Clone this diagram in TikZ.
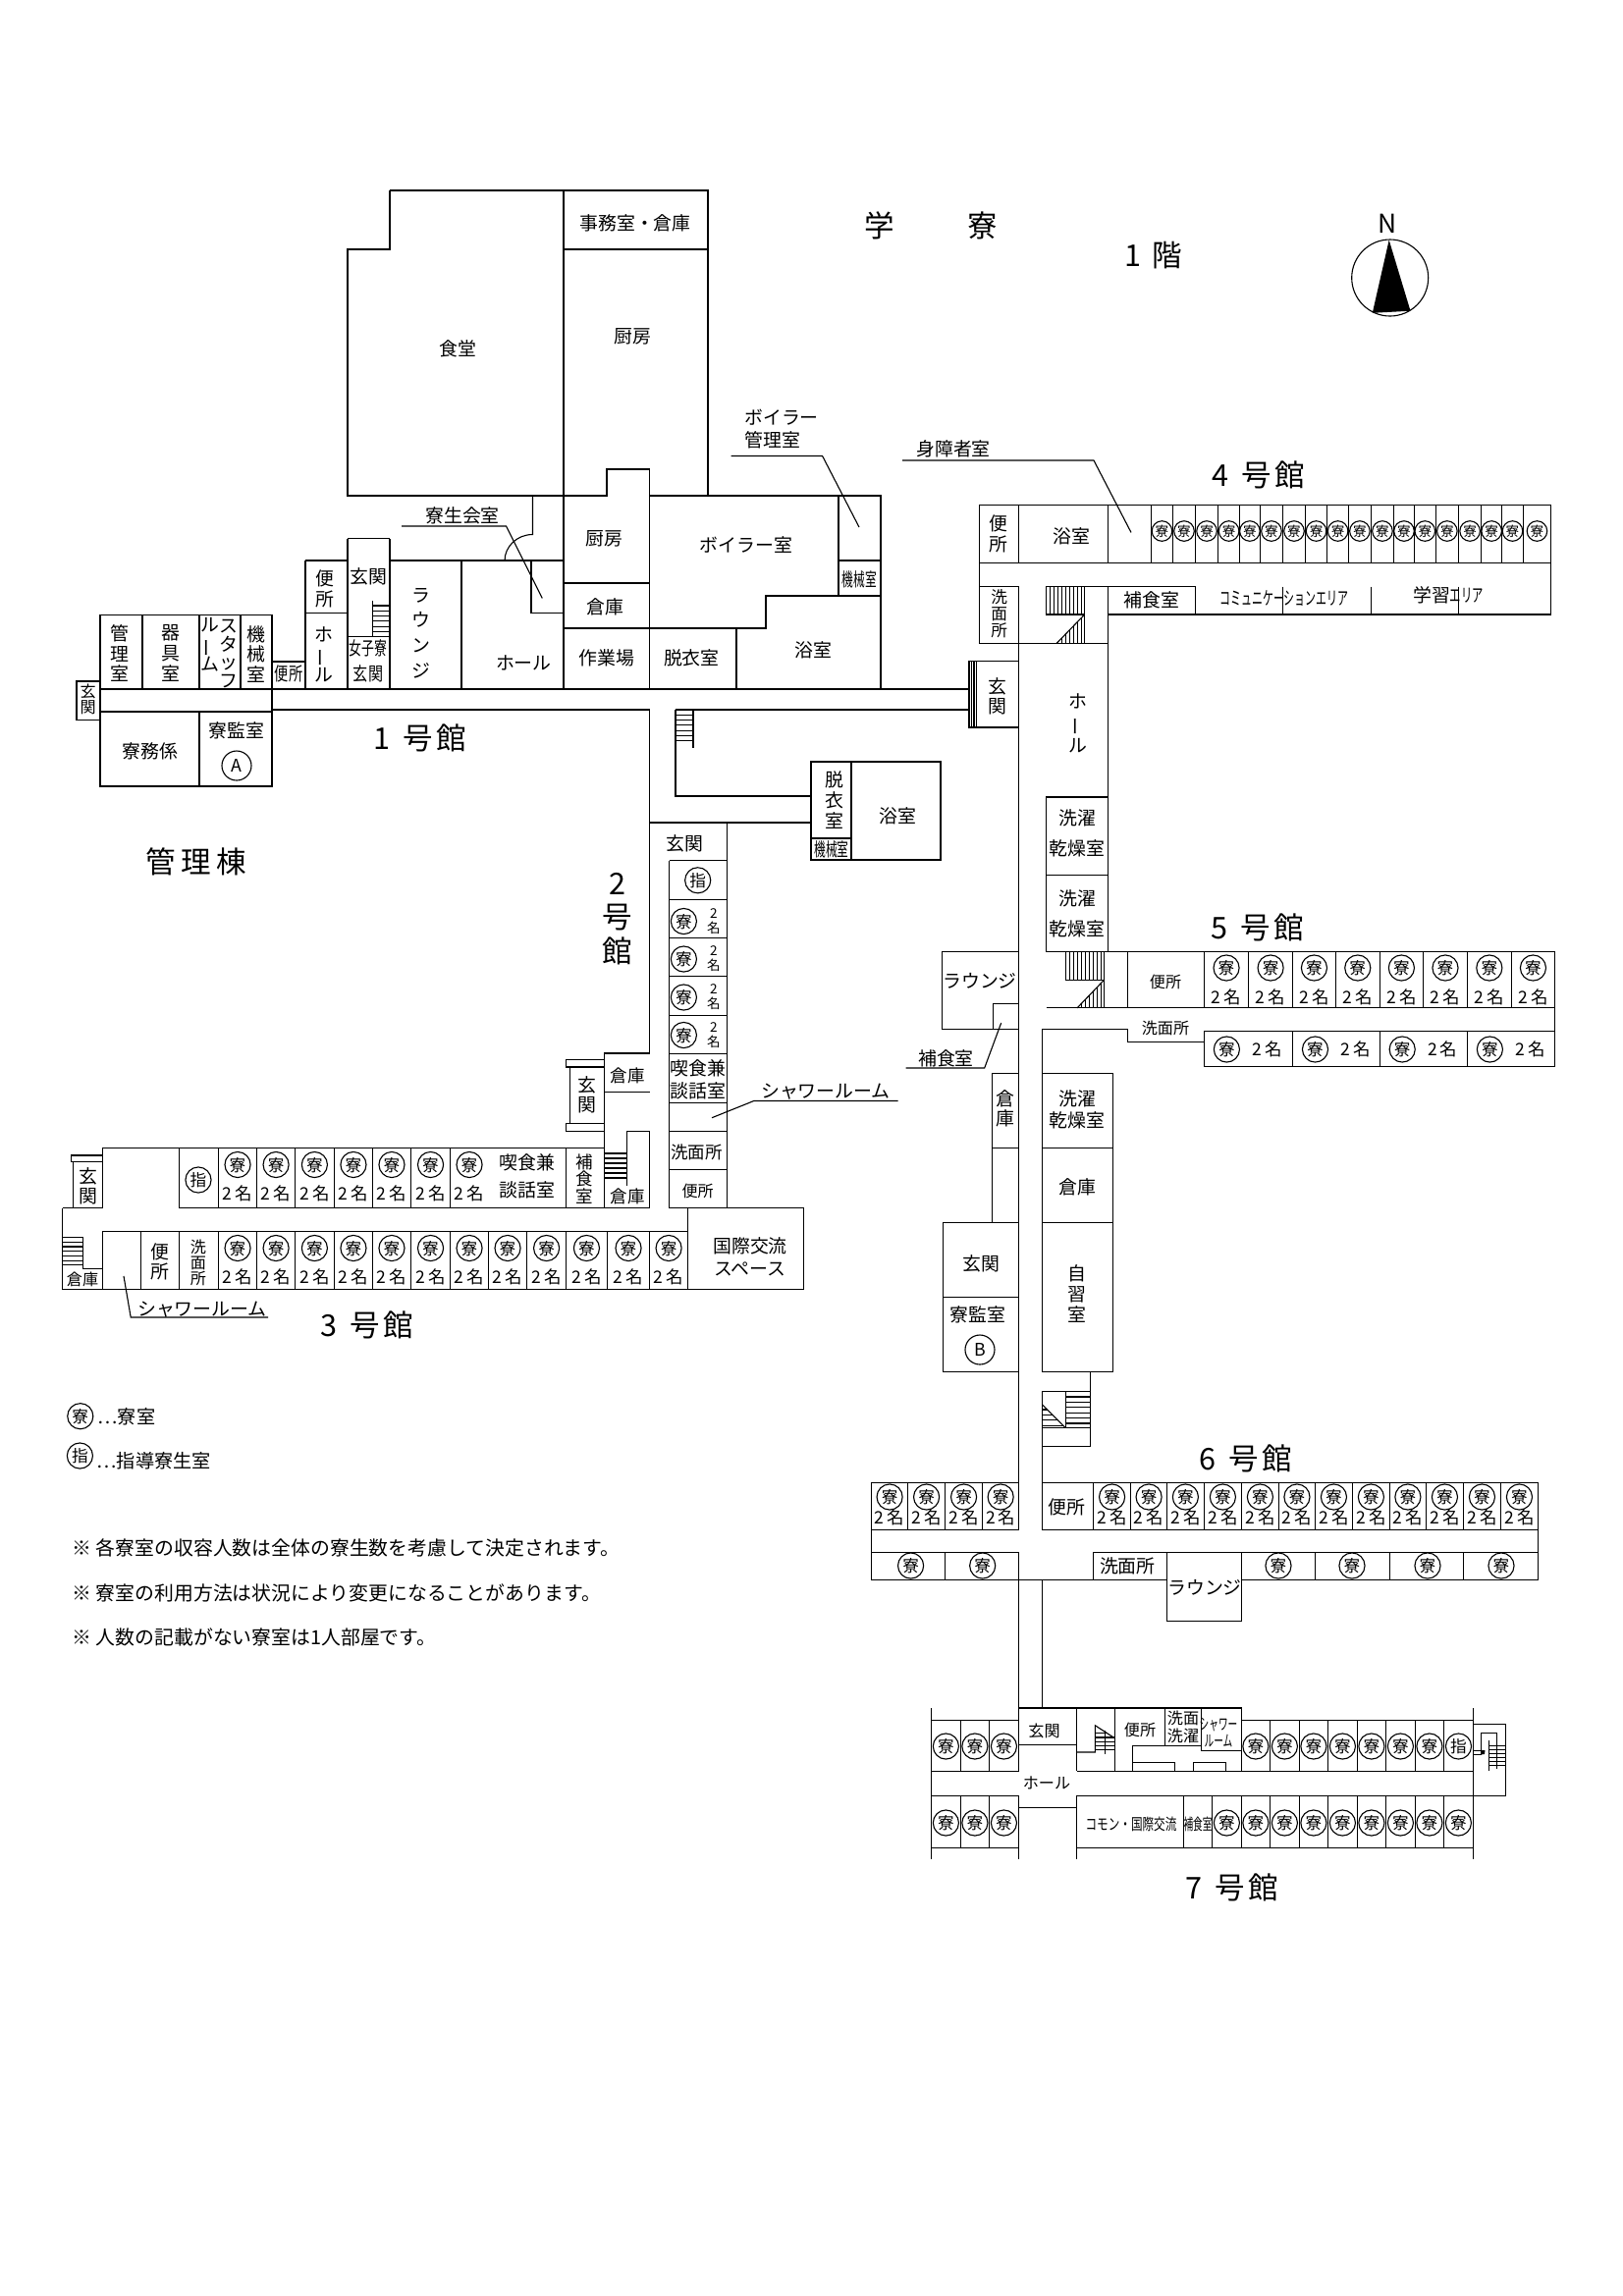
\documentclass[tikz,border=0pt]{standalone}
\usepackage{fontspec}
\setmainfont{Noto Sans CJK JP}
\normallineskiplimit=-20pt
\lineskiplimit=-20pt
\newcommand{\vchoon}{\rotatebox[origin=c]{90}{ー}}
\newcommand{\twomei}{2\hspace{1.1pt}名}
\newcommand{\gokan}[1]{#1\hspace{4.5pt}号\hspace{1.5pt}館}
\tikzset{
	lbl/.style={inner sep=0pt,align=center,font=\fontsize{6.8}{7.4}\selectfont},
	lbls/.style={inner sep=0pt,align=center,font=\fontsize{5.8}{6}\selectfont},
	title/.style={inner sep=0pt,align=center,font=\fontsize{11}{12.4}\selectfont},
	note/.style={inner sep=0pt,anchor=west,font=\fontsize{7.15}{8}\selectfont},
	legnote/.style={inner sep=0pt,anchor=west,font=\fontsize{6.9}{8}\selectfont},
	ryo/.style={draw,circle,inner sep=0pt,minimum size=9.4pt,text height=5pt,text depth=.3pt,font=\fontsize{6}{6}\selectfont},
	ryos/.style={draw,circle,inner sep=0pt,minimum size=7.4pt,text height=4.1pt,text depth=.25pt,font=\fontsize{4.9}{5}\selectfont},
	mei/.style={inner sep=0pt,align=center,font=\fontsize{6.3}{6.3}\selectfont},
	meiv/.style={inner sep=0pt,align=center,font=\fontsize{4.9}{5.4}\selectfont},
	kanshi/.style={draw,circle,inner sep=0pt,minimum size=10.8pt,font=\fontsize{6.4}{7}\selectfont},
}
\begin{document}
\begin{tikzpicture}[x=0.36pt,y=-0.36pt,line width=0.4pt]
	\useasboundingbox (0,0) rectangle (1653,2339);
	% main block
	\draw (397,194) -- (721,194) -- (721,505);
	\draw (397,194) -- (397,254) -- (354,254) -- (354,505) -- (618,505) -- (618,478) -- (661.7,478) -- (661.7,505) -- (897,505) -- (897,702);
	\draw (574,194) -- (574,702);
	\draw (574,254) -- (721,254);
	\draw (542.5,505) -- (542.5,544.5) arc (-90:-180:28.5 and 26.9);
	\draw (397,571) -- (574,571);
	\draw (541,571) -- (541,624.5) -- (574,624.5);
	\draw (470,571) -- (470,702);
	\draw (397,548.6) -- (397,702);
	\draw (354,548.6) -- (397,548.6);
	\draw (354,548.6) -- (354,702);
	\draw (311,571) -- (354,571);
	\draw (311,571) -- (311,702);
	\draw (311,624.5) -- (354,624.5);
	\draw (354,648.6) -- (397,648.6);
	\draw (379.5,612) -- (379.5,648.6);
	\foreach \Y in {617,622.3,...,648} \draw (379.5,\Y) -- (397,\Y);
	\draw (661.7,478) -- (661.7,702);
	\draw (574,594) -- (661.7,594);
	\draw (574,640) -- (780,640) -- (780,607) -- (897,607);
	\draw (750,640) -- (750,702);
	\draw (854,505) -- (854,607);
	\draw (854,571) -- (897,571);
	% kanri wing and corridor
	\draw (102,626.5) -- (277,626.5) -- (277,801) -- (102,801) -- cycle;
	\foreach \X in {145,203,245} \draw (\X,626.5) -- (\X,702);
	\draw (203,725) -- (203,801);
	\draw (102,725) -- (277,725);
	\draw (78,694) rectangle (102,733.5);
	\draw (277,674) -- (311,674);
	\draw (102,702) -- (987,702);
	\draw (277,723) -- (661.7,723) -- (661.7,1073);
	\draw (706,723) -- (987,723);
	% bath
	\draw (688,723) -- (688,811) -- (826,811);
	\draw (706,723) -- (706,761.6);
	\foreach \Y in {723,728.3,...,756} \draw (688,\Y) -- (706,\Y);
	\draw (826,776) rectangle (958,876);
	\draw (867,776) -- (867,876);
	\draw (826,854) -- (867,854);
	% 2 go kan
	\draw (661.7,838) -- (826,838);
	\draw (740.3,838) -- (740.3,1230.5);
	\draw (681.6,876.5) -- (681.6,1230.5);
	\foreach \Y in {876.5,916.7,955.8,994.8,1034.6,1073.6,1123.4,1152.5,1191.5} \draw (681.6,\Y) -- (740.3,\Y);
	\draw (615.3,1073) -- (661.7,1073);
	\draw (615.3,1112.3) -- (661.7,1112.3);
	\draw (615.3,1073) -- (615.3,1230.5);
	\draw (580.6,1087) rectangle (615.3,1144.4);
	\draw (576.5,1079.4) rectangle (615.3,1087);
	\draw (576.5,1144.4) rectangle (615.3,1152.5);
	\draw (638.3,1207.6) -- (638.3,1152.5) -- (661.7,1152.5) -- (661.7,1230.5);
	\foreach \Y in {1175,1180,...,1200} \draw (615.3,\Y) -- (638.3,\Y);
	% 3 go kan
	\draw (104.6,1230.5) -- (104.6,1169.3) -- (615.3,1169.3);
	\draw (72.4,1177) rectangle (104.6,1183.9);
	\draw (74.5,1183.9) -- (74.5,1230.5);
	\draw (63.8,1230.5) -- (104.6,1230.5);
	\draw (182.7,1230.5) -- (661.7,1230.5);
	\draw (182.7,1169.3) -- (182.7,1230.5);
	\draw (222.4,1169.3) -- (222.4,1230.5);
	\draw (576.5,1169.3) -- (576.5,1230.5);
	\draw (63.8,1230.5) -- (63.8,1313.6) -- (818.3,1313.6) -- (818.3,1230.5) -- (681.6,1230.5);
	\draw (104.6,1254.3) -- (700.5,1254.3);
	\draw (700.5,1230.5) -- (700.5,1313.6);
	\draw (104.6,1254.3) -- (104.6,1313.6);
	\draw (143.4,1254.3) -- (143.4,1313.6);
	\draw (182.7,1254.3) -- (182.7,1313.6);
	\draw (222.4,1254.3) -- (222.4,1313.6);
	\draw (84.7,1260.4) -- (84.7,1292.5) -- (104.6,1292.5);
	\draw (63.8,1288.7) -- (84.7,1288.7);
	\foreach \Y in {1260.4,1265.2,...,1285} \draw (63.8,\Y) -- (84.7,\Y);
	% 4 go kan
	\draw (997.4,514.7) -- (1579.5,514.7) -- (1579.5,626) -- (1128.7,626);
	\draw (997.4,514.7) -- (997.4,655.5) -- (1128.7,655.5);
	\draw (997.4,573.5) -- (1579.5,573.5);
	\draw (1037.6,514.7) -- (1037.6,573.5);
	\draw (1128.7,514.7) -- (1128.7,573.5);
	\draw (997.4,597.5) -- (1037.6,597.5) -- (1037.6,1510.3);
	\draw (1128.7,597.5) -- (1128.7,969.3);
	\draw (1128.7,597.5) -- (1217.4,597.5) -- (1217.4,626);
	\draw (1065.3,597.5) -- (1128.7,597.5);
	\draw (1065.3,597.5) -- (1065.3,626) -- (1104.7,626);
	\draw (1104.7,597.5) -- (1104.7,655.5);
	\draw (1076,655.5) -- (1104.7,626);
	\foreach \X in {1069.3,1073.3,...,1104} \draw (\X,597.5) -- (\X,626);
	\foreach \X in {1081.3,1085.3,...,1104} \draw (\X,{655.5-(\X-1076)*1.03}) -- (\X,655.5);
	\foreach \X in {1306.6,1396.3,1485.5} \draw (\X,597.5) -- (\X,626);
	% east genkan
	\draw (987,702) -- (987,741) -- (1037.6,741);
	\draw (987,723) -- (987,673.5) -- (1037.6,673.5);
	\foreach \X in {989.6,992,994.5} \draw (\X,673.5) -- (\X,741);
	% sentaku
	\draw (1065.5,812) rectangle (1128.7,891.6);
	\draw (1065.5,891.6) rectangle (1128.7,969.3);
	% 5 go kan
	\draw (1128.7,969.3) -- (1583.6,969.3) -- (1583.6,1086.3) -- (1226.4,1086.3) -- (1226.4,1050.5) -- (1583.6,1050.5);
	\draw (1065.5,1026.9) -- (1583.6,1026.9);
	\draw (1148.5,969.3) -- (1148.5,1026.9);
	\draw (1085.3,969.3) -- (1085.3,998.3) -- (1124.5,998.3);
	\draw (1124.5,969.3) -- (1124.5,1026.9);
	\draw (1097,1026.9) -- (1124.5,998.3);
	\foreach \X in {1089.3,1093.3,...,1124} \draw (\X,969.3) -- (\X,998.3);
	\foreach \X in {1101.3,1105.3,...,1124} \draw (\X,{1026.9-(\X-1097)*1.04}) -- (\X,1026.9);
	\draw (1061.7,1093.4) -- (1061.7,1048.3) -- (1148.5,1048.3) -- (1148.5,1061.3) -- (1226.4,1061.3);
	% lounge west
	\draw (1037.6,969.3) -- (959.3,969.3) -- (959.3,1048.3) -- (1037.6,1048.3);
	\draw (1011.7,1048.3) -- (1011.7,1022.4) -- (1037.6,1022.4);
	\draw (1010.3,1245.6) -- (1010.3,1093.4) -- (1037.6,1093.4);
	\draw (1010.3,1169.3) -- (1037.6,1169.3);
	\draw (960.7,1245.6) rectangle (1037.6,1397.4);
	\draw (960.7,1321.5) -- (1037.6,1321.5);
	% east column
	\draw (1061.7,1093.4) rectangle (1133.4,1397.4);
	\draw (1061.7,1169.3) -- (1133.4,1169.3);
	\draw (1061.7,1245.6) -- (1133.4,1245.6);
	\draw (1110.3,1397.4) -- (1110.3,1473.3);
	\draw (1061.7,1417.5) rectangle (1110.3,1473.3);
	\draw (1085.3,1417.5) -- (1085.3,1454.6);
	\draw (1061.7,1431) -- (1085.3,1454.6);
	\draw (1061.7,1454.6) -- (1110.3,1454.6);
	\foreach \Y in {1423,1428.4,...,1454} \draw (1085.3,\Y) -- (1110.3,\Y);
	\foreach \Y in {1436,1441.4,...,1454} \draw (1061.7,\Y) -- ({1061.7+\Y-1431},\Y);
	\draw (1061.7,1473.3) -- (1061.7,1510.3);
	% 6 go kan
	\draw (887.5,1510.3) rectangle (1037.6,1558.3);
	\draw (1061.7,1510.3) rectangle (1566.6,1558.3);
	\draw (1113.5,1510.3) -- (1113.5,1558.3);
	\draw (887.5,1558.3) -- (887.5,1609.3) -- (1188.5,1609.3);
	\draw (1566.6,1558.3) -- (1566.6,1609.3) -- (1264.5,1609.3);
	\draw (887.5,1581.3) -- (1037.6,1581.3);
	\draw (1113.5,1581.3) -- (1566.6,1581.3);
	\draw (962.5,1581.3) -- (962.5,1609.3);
	\draw (1037.6,1581.3) -- (1037.6,1740);
	\draw (1061.7,1610) -- (1061.7,1740);
	\draw (1113.5,1581.3) -- (1113.5,1609.3);
	\draw (1188.5,1581.3) rectangle (1264.5,1651.3);
	\foreach \X in {1339.6,1415.5,1490.6} \draw (\X,1581.3) -- (\X,1609.3);
	% 7 go kan
	\draw (948.3,1740) -- (948.3,1893.7);
	\draw (1500.5,1740) -- (1500.5,1893.7);
	\draw (1096.7,1829.3) -- (1096.7,1893.7);
	\draw (1037.6,1829.3) -- (1037.6,1893.7);
	\draw (948.3,1752.3) -- (1037.6,1752.3);
	\draw (948.3,1804.3) -- (1037.6,1804.3);
	\draw (948.3,1829.3) -- (1037.6,1829.3);
	\draw (948.3,1882.3) -- (1037.6,1882.3);
	\draw (1037.6,1740) -- (1264.5,1740) -- (1264.5,1804.3);
	\draw (1037.6,1740) -- (1037.6,1804.3);
	\draw (1037.6,1777.3) -- (1096.7,1777.3);
	\draw (1037.6,1841.3) -- (1096.7,1841.3);
	\draw (1096.7,1740) -- (1096.7,1804.3);
	\draw (1096.7,1785) -- (1115.3,1785) -- (1115.3,1757.7) -- (1135.3,1770.7);
	\draw (1135.3,1740) -- (1135.3,1804.3);
	\draw (1115.3,1765.7) -- (1127.7,1765.7);
	\foreach \Y in {1770,1774.3,1778.7,1782.7} \draw (1115.3,\Y) -- (1135.3,\Y);
	\draw (1125.3,1763.3) -- (1125.3,1787.3);
	\draw (1186.7,1740) -- (1186.7,1778.3);
	\draw (1223.7,1740) -- (1223.7,1783.3) -- (1264.5,1783.3);
	\draw (1153.3,1804.3) -- (1153.3,1778.3) -- (1223.7,1778.3);
	\draw (1153.3,1795.3) -- (1196.7,1795.3) -- (1196.7,1804.3);
	\draw (1215.3,1804.3) -- (1215.3,1795.3) -- (1248.3,1795.3) -- (1248.3,1804.3);
	\draw (1096.7,1804.3) -- (1500.5,1804.3);
	\draw (1096.7,1829.3) -- (1533.7,1829.3) -- (1533.7,1756.3) -- (1500.5,1756.3);
	\draw (1096.7,1882.3) -- (1500.5,1882.3);
	\draw (1264.5,1752.3) -- (1500.5,1752.3);
	\draw (1205.5,1829.3) -- (1205.5,1882.3);
	\draw (1508.3,1787.7) -- (1508.3,1765.7) -- (1524.3,1765.7) -- (1524.3,1801.7);
	\draw (1516.3,1773.3) -- (1516.3,1804.3);
	\foreach \Y in {1778.3,1782.3,...,1799} \draw (1516.3,\Y) -- (1533.7,\Y);
	\draw (1500.5,1783.5) -- (1508.3,1783.5);
	\draw (1500.5,1787.7) -- (1508.3,1787.7);
	\fill (1508,1783) -- (1512.5,1783) -- (1512,1787) -- (1508,1787.5) -- cycle;
	% leaders
	\draw (744.6,464.5) -- (837.6,464.5) -- (875,537);
	\draw (409,536) -- (515.6,536) -- (552.3,609.4);
	\draw (919,469) -- (1114,469) -- (1152,542.4);
	\draw (725,1138.7) -- (767.8,1121.5) -- (914.5,1121.5);
	\draw (126,1300) -- (133.2,1342) -- (273,1342);
	\draw (1019.7,1042) -- (1002.7,1088) -- (922.5,1088);
	% rooms, circles
	\foreach \X [remember=\X as \P (initially 1172.3),count=\N] in {1194.6,1217.4,1240.7,1262.5,1283.3,1306.6,1329.4,1351.7,1373.5,1396.3,1419.6,1440.4,1462.2,1485.5,1508.7,1529.6,1551.4,1579.5}{
		\draw (\P,514.7) -- (\P,573.5);
		\node[ryos] (dfour\N) at ({(\P+\X)/2},541) {寮};
	}
	\foreach \X [remember=\X as \P (initially 1226.4),count=\N] in {1271.7,1316.5,1360.4,1405.2,1449.6,1494.4,1539.3,1583.6}{
		\draw (\P,969.3) -- (\P,1026.9);
		\node[ryo] (dfive\N) at ({(\P+\X)/2},986) {寮};
		\node[mei] (nfive\N) at ({(\P+\X)/2},1015.7) {\twomei};
	}
	\foreach \X [remember=\X as \P (initially 1226.4),count=\N] in {1316.5,1405.2,1494.4,1583.6}{
		\draw (\P,1050.5) -- (\P,1086.3);
		\node[ryo] (efive\N) at ({\P+23},1069) {寮};
		\node[mei] (mfive\N) at ({\P+64},1069) {\twomei};
	}
	\foreach \Y [count=\N] in {938.5,977,1016,1054.5}{
		\node[ryo] (dtwo\N) at (696.4,\Y) {寮};
		\node[meiv] (ntwo\N) at (727,\Y) {2\\名};
	}
	\foreach \X [remember=\X as \P (initially 222.4),count=\N] in {261.7,300.5,340.3,379.6,418.4,458.7,497.4}{
		\draw (\P,1169.3) -- (\P,1230.5);
		\node[ryo] (dthreeA\N) at ({(\P+\X)/2},1186.5) {寮};
		\node[mei] (nthreeA\N) at ({(\P+\X)/2},1216) {\twomei};
	}
	\foreach \X [remember=\X as \P (initially 222.4),count=\N] in {261.7,300.5,340.3,379.6,418.4,458.7,497.4,536.7,576.5,618.4,661.7,700.5}{
		\draw (\P,1254.3) -- (\P,1313.6);
		\node[ryo] (dthreeB\N) at ({(\P+\X)/2},1271.5) {寮};
		\node[mei] (nthreeB\N) at ({(\P+\X)/2},1301) {\twomei};
	}
	\foreach \X [remember=\X as \P (initially 887.5),count=\N] in {924.7,962.5,1000.7,1037.6}{
		\draw (\P,1510.3) -- (\P,1558.3);
		\node[ryo] (dsixA\N) at ({(\P+\X)/2},1525) {寮};
		\node[mei] (nsixA\N) at ({(\P+\X)/2},1546) {\twomei};
	}
	\foreach \X [remember=\X as \P (initially 1113.5),count=\N] in {1151.7,1188.5,1226.3,1264.5,1302.3,1339.6,1377.3,1415.5,1452.3,1490.6,1528.3,1566.6}{
		\draw (\P,1510.3) -- (\P,1558.3);
		\node[ryo] (dsixB\N) at ({(\P+\X)/2},1525) {寮};
		\node[mei] (nsixB\N) at ({(\P+\X)/2},1546) {\twomei};
	}
	\foreach \X [count=\N] in {927.6,1000.7,1302,1377,1454,1529} \node[ryo] (dsixC\N) at (\X,1595) {寮};
	\foreach \X [remember=\X as \P (initially 948.3),count=\N] in {978.5,1007.3,1037.6}{
		\draw (\P,1752.3) -- (\P,1804.3);
		\draw (\P,1829.3) -- (\P,1882.3);
		\node[ryo] (dsevenA\N) at ({(\P+\X)/2},1779) {寮};
		\node[ryo] (dsevenB\N) at ({(\P+\X)/2},1857) {寮};
	}
	\foreach \X [remember=\X as \P (initially 1264.5),count=\N] in {1293.3,1323.5,1352.3,1382.5,1411.3,1441.5,1470.3}{
		\draw (\P,1752.3) -- (\P,1804.3);
		\node[ryo] (dsevenC\N) at ({(\P+\X)/2},1779) {寮};
	}
	\draw (1470.3,1752.3) -- (1470.3,1804.3);
	\foreach \X [remember=\X as \P (initially 1234.3),count=\N] in {1264.5,1293.3,1323.5,1352.3,1382.5,1411.3,1441.5,1470.3,1500.5}{
		\draw (\P,1829.3) -- (\P,1882.3);
		\node[ryo] (dsevenD\N) at ({(\P+\X)/2},1857) {寮};
	}
	\node[ryo] (sitwo) at (710.7,896.8) {指};
	\node[ryo] (sithree) at (202,1202) {指};
	\node[ryo] (siseven) at (1485.5,1779) {指};
	% labels
	\node[title] (gaku) at (896,230) {学};
	\node[title] (ryou) at (1001,230) {寮};
	\node[title] (floor) at (1175,260) {1\hspace{4pt}階};
	\node[title] (gokan4) at (1282,484) {\gokan{4}};
	\node[title] (gokan1) at (428,751.4) {\gokan{1}};
	\node[title] (gokan5) at (1281,945) {\gokan{5}};
	\node[title] (gokan6) at (1269,1486) {\gokan{6}};
	\node[title] (gokan7) at (1255,1923) {\gokan{7}};
	\node[title] (gokan3) at (374,1350) {\gokan{3}};
	\node[title] (gokan2) at (629,936) {2\\号\\館};
	\node[title] (kanri) at (199.5,878) {管\hspace{2pt}理\hspace{2pt}棟};
	\node[lbl] (jimu) at (647,227) {事務室・倉庫};
	\node[lbl] (dining) at (466,355.5) {食堂};
	\node[lbl] (kitchenA) at (644,343) {厨房};
	\node[lbl,align=left] (boilerB) at (796,437) {ボイラー\\[1pt]管理室};
	\node[lbl] (council) at (471,525) {寮生会室};
	\node[lbl] (kitchenB) at (615.4,548.6) {厨房};
	\node[lbl] (boiler) at (760,555.5) {ボイラー室};
	\node[lbl] (soukoA) at (616.6,618) {倉庫};
	\node[lbl] (work) at (618,670) {作業場};
	\node[lbl] (dressA) at (704.4,670) {脱衣室};
	\node[lbl] (bathA) at (828,662.4) {浴室};
	\node[lbl] (hallA) at (533.4,675) {ホール};
	\node[lbl] (kikaiA) at (875.5,590) {\scalebox{.62}[1]{機械室}};
	\node[lbl,font=\fontsize{6.8}{9.2}\selectfont] (loungeA) at (429,645) {ラ\\ウ\\ン\\ジ};
	\node[lbl] (genkanA) at (375.5,587) {玄関};
	\node[lbl] (wcA) at (331,600) {便\\所};
	\node[lbl] (hallB) at (329.6,667) {ホ\\\vchoon\\ル};
	\node[lbl] (joshi) at (375,673) {\scalebox{.68}[1]{女子寮}\\[2pt]\scalebox{.8}[1]{玄関}};
	\node[lbl] (kanrishitsu) at (122.3,665.5) {管\\理\\室};
	\node[lbl] (kigu) at (174,665.5) {器\\具\\室};
	\node[lbl,font=\fontsize{6.8}{6.8}\selectfont] (staffA) at (232.5,666) {ス\\タ\\ッ\\フ};
	\node[lbl,font=\fontsize{6.8}{7.2}\selectfont] (staffB) at (213.6,657) {ル\\\vchoon\\ム};
	\node[lbl] (kikaiB) at (260.7,666.5) {機\\械\\室};
	\node[lbl] (wcB) at (294,686) {\scalebox{.75}[1]{便所}};
	\node[lbls] (genkanB) at (89.6,712.5) {玄\\関};
	\node[lbl] (ryomu) at (153.3,765) {寮務係};
	\node[lbl] (kanshiA) at (240.6,744.5) {寮監室};
	\node[kanshi] (markA) at (241,780) {A};
	\node[lbl,font=\fontsize{6.8}{7.6}\selectfont] (dressB) at (849.7,815) {脱\\衣\\室};
	\node[lbl] (bathB) at (914,831) {浴室};
	\node[lbl] (kikaiC) at (847,865) {\scalebox{.62}[1]{機械室}};
	\node[lbl] (shinsho) at (971,457.5) {身障者室};
	\node[lbl] (wcC) at (1017,544) {便\\所};
	\node[lbl] (bathC) at (1091.4,546.5) {浴室};
	\node[lbls,font=\fontsize{6}{6.1}\selectfont] (senmenA) at (1017.7,625) {洗\\面\\所};
	\node[lbl] (hoshokuA) at (1173,611.4) {補食室};
	\node[lbl] (commu) at (1308,609.4) {\scalebox{.58}[1]{コミュニケーションエリア}};
	\node[lbl] (gakushu) at (1475,606.5) {学習\scalebox{.6}[1]{エリア}};
	\node[lbl] (genkanC) at (1016,709.5) {玄\\関};
	\node[lbl,font=\fontsize{6.8}{8}\selectfont] (hallC) at (1098,737) {ホ\\\vchoon\\ル};
	\node[lbl,font=\fontsize{6.8}{11}\selectfont] (sentakuA) at (1097,849) {洗濯\\乾燥室};
	\node[lbl,font=\fontsize{6.8}{11}\selectfont] (sentakuB) at (1097,931) {洗濯\\乾燥室};
	\node[lbl] (loungeB) at (998,999) {ラウンジ};
	\node[lbl] (hoshokuB) at (963.5,1078) {補食室};
	\node[lbls] (wcD) at (1187,1000) {便所};
	\node[lbls] (senmenB) at (1187,1047) {洗面所};
	\node[lbl,font=\fontsize{6.8}{8}\selectfont] (sentakuC) at (1097,1130) {洗濯\\乾燥室};
	\node[lbl] (soukoB) at (1097,1209) {倉庫};
	\node[lbl] (jishu) at (1097,1318) {自\\習\\室};
	\node[lbl] (soukoC) at (1024,1129.5) {倉\\庫};
	\node[lbl] (genkanD) at (999,1287) {玄関};
	\node[lbl] (kanshiB) at (996,1339) {寮監室};
	\node[kanshi] (markB) at (998,1375) {B};
	\node[lbl] (genkanE) at (697,859) {玄関};
	\node[lbl] (kissaA) at (710.7,1099.5) {喫食兼\\[1pt]談話室};
	\node[lbl,font=\fontsize{6.3}{7}\selectfont] (senmenC) at (709.7,1174) {洗面所};
	\node[lbls] (wcE) at (710.7,1213) {便所};
	\node[lbl] (showerA) at (841,1112) {シャワールーム};
	\node[lbl,font=\fontsize{6.3}{7}\selectfont] (soukoD) at (639,1096) {倉庫};
	\node[lbl] (genkanF) at (597.5,1115.5) {玄\\関};
	\node[lbl,font=\fontsize{6.8}{10}\selectfont] (kissaB) at (537,1198.5) {喫食兼\\談話室};
	\node[lbls,font=\fontsize{6.3}{6.4}\selectfont] (hoshokuC) at (595,1201) {補\\食\\室};
	\node[lbl,font=\fontsize{6.3}{7}\selectfont] (soukoE) at (639,1219) {倉庫};
	\node[lbl] (genkanG) at (90,1208.5) {玄\\関};
	\node[lbl] (wcF) at (163,1285.5) {便\\所};
	\node[lbls,font=\fontsize{5.8}{5.8}\selectfont] (senmenD) at (202,1286) {洗\\面\\所};
	\node[lbls] (soukoF) at (84,1303) {倉庫};
	\node[lbl,font=\fontsize{6.8}{8.4}\selectfont] (kokusai) at (764,1280.5) {国際交流\\スペース};
	\node[lbl] (showerB) at (206,1334) {シャワールーム};
	\node[lbl] (wcG) at (1086,1535) {便所};
	\node[lbl] (senmenE) at (1148.4,1595) {洗面所};
	\node[lbl] (loungeC) at (1227,1617) {ラウンジ};
	\node[lbls] (genkanH) at (1063.5,1763) {玄関};
	\node[lbls] (wcH) at (1161,1762) {便所};
	\node[lbls,font=\fontsize{5.8}{6.4}\selectfont] (senmenF) at (1205,1759) {洗面\\洗濯};
	\node[lbls,font=\fontsize{5.8}{6.2}\selectfont] (showerC) at (1241,1765) {\scalebox{.6}[1]{シャワー}\\\scalebox{.6}[1]{ルーム}};
	\node[lbls] (hallD) at (1066,1816) {ホール};
	\node[lbls] (common) at (1152,1858) {\scalebox{.72}[1]{コモン・国際交流}};
	\node[lbls] (hoshokuD) at (1220,1858) {\scalebox{.6}[1]{補食室}};
	% north mark
	\node[inner sep=0pt,font=\fontsize{9.5}{10}\selectfont] (north) at (1413,228) {N};
	\draw (1415.7,283) circle (39 and 39);
	\fill (1414.7,244.5) -- (1397.8,318.8) -- (1436.5,316.7) -- cycle;
	% legend
	\node[ryo] (legryo) at (81.8,1442.7) {寮};
	\node[ryo] (legsi) at (81.4,1483) {指};
	\node[legnote] (legA) at (99,1443) {⋯寮室};
	\node[legnote] (legB) at (98,1488) {⋯指導寮生室};
	\node[note] (noteA) at (73,1577) {※ 各寮室の収容人数は全体の寮生数を考慮して決定されます。};
	\node[note] (noteB) at (73,1623) {※ 寮室の利用方法は状況により変更になることがあります。};
	\node[note] (noteC) at (73,1668) {※ 人数の記載がない寮室は1人部屋です。};
\end{tikzpicture}
\end{document}
